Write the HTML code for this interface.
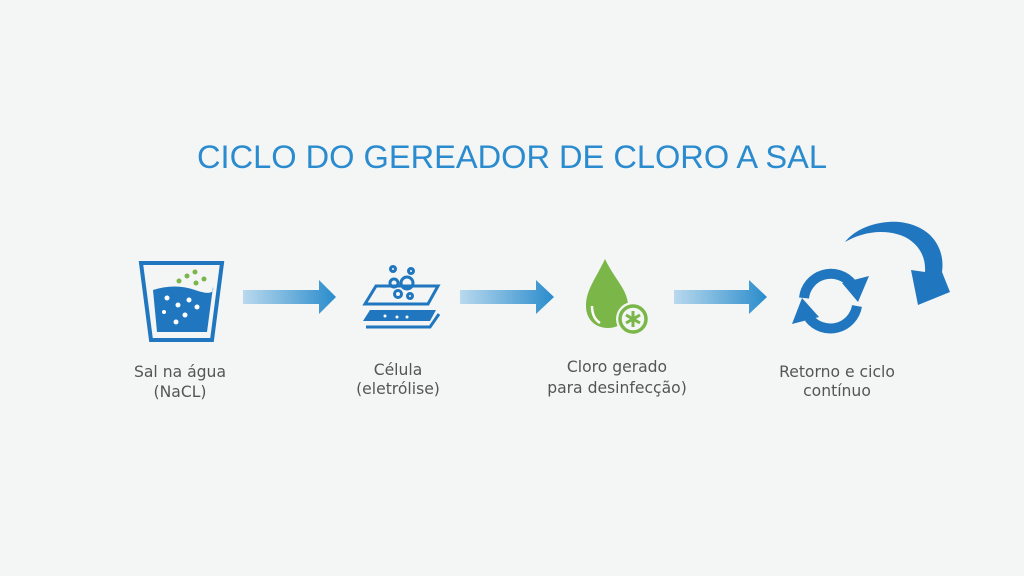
<!DOCTYPE html>
<html><head><meta charset="utf-8"><style>
html,body{margin:0;padding:0;background:#f4f5f5;}
svg{display:block}
text{font-family:"DejaVu Sans","Liberation Sans",sans-serif;}
</style></head><body>
<svg width="1024" height="576" viewBox="0 0 1024 576">
<defs>
<linearGradient id="ag" x1="0" x2="1"><stop offset="0" stop-color="#b9d9ee"/><stop offset="1" stop-color="#2a8ccc"/></linearGradient>
</defs>
<rect width="1024" height="576" fill="#f4f5f5"/>
<text x="512" y="168" text-anchor="middle" font-size="32.6" fill="#2a8ccf" style="font-family:'Liberation Sans',sans-serif">CICLO DO GEREADOR DE CLORO A SAL</text>

<!-- glass -->
<path d="M141,263 L222,263 L212,340 L151,340 Z" fill="none" stroke="#2077bf" stroke-width="4"/>
<path d="M153,290 Q175,283 195,290 T213,287 L207,332 L157,332 Z" fill="#2077bf"/>
<g fill="#fff"><circle cx="167" cy="298" r="2.5"/><circle cx="178" cy="305" r="2.5"/><circle cx="189" cy="300" r="2.5"/><circle cx="197" cy="307" r="2.5"/><circle cx="185" cy="315" r="2.5"/><circle cx="176" cy="322" r="2.5"/><circle cx="164" cy="312" r="2"/></g>
<g fill="#7ab648"><circle cx="179" cy="281" r="2.5"/><circle cx="187" cy="276" r="2.5"/><circle cx="195" cy="272" r="2.5"/><circle cx="196" cy="283" r="2.5"/><circle cx="204" cy="279" r="2.5"/></g>

<!-- arrows -->
<g fill="url(#ag)">
<path d="M243,290 L319,290 L319,280 L336,297 L319,314 L319,304 L243,304 Z"/>
<path d="M460,290 L536,290 L536,280 L554,297 L536,314 L536,304 L460,304 Z"/>
<path d="M674,290 L749,290 L749,280 L767,297 L749,314 L749,304 L674,304 Z"/>
</g>

<!-- cell -->
<g fill="none" stroke="#2077bf" stroke-width="3">
<path d="M376,286 L438,286 L428,304 L365,304 Z"/>
<circle cx="394" cy="283" r="4"/><circle cx="407" cy="283" r="6"/><circle cx="398" cy="294" r="3.5"/><circle cx="410" cy="296" r="2.5"/><circle cx="393" cy="269" r="2.5"/><circle cx="411" cy="271" r="2.5"/>
<path d="M366,327 L430,327 L439,314"/>
</g>
<path d="M370,310 L436,310 L430,321 L363,321 Z" fill="#2077bf"/>
<g fill="#fff"><circle cx="385" cy="316" r="1.5"/><circle cx="397" cy="317" r="1.5"/><circle cx="407" cy="317" r="1.5"/></g>

<!-- drop -->
<path d="M605,259 C595,280 586,290 586,306 C586,320 596,328 608,328 C620,328 628,320 628,306 C628,290 615,280 605,259 Z" fill="#7ab648"/>
<path d="M592,306 Q592,318 600,323" stroke="#fff" stroke-width="2.5" fill="none"/>
<circle cx="633" cy="319" r="17" fill="#f4f5f5"/>
<circle cx="633" cy="319" r="13" fill="none" stroke="#7ab648" stroke-width="3.5"/>
<g stroke="#7ab648" stroke-width="3"><line x1="633" y1="311" x2="633" y2="327"/><line x1="626" y1="315" x2="640" y2="323"/><line x1="626" y1="323" x2="640" y2="315"/></g>

<!-- cycle -->
<g fill="none" stroke="#2077bf" stroke-width="10">
<path d="M804,298 A27,27 0 0 1 852,284"/>
<path d="M857,306 A27,27 0 0 1 809,318"/>
</g>
<g fill="#2077bf">
<path d="M842,283 L869,276 L858,302 Z"/>
<path d="M819,317 L792,324 L802,298 Z"/>
</g>
<!-- big arrow -->
<path d="M845,242 C860,222 905,212 930,235 C940,245 944,258 942,272 L950,292 L918,305 L911,270 L925,272 C926,258 920,245 905,237 C885,228 862,232 845,242 Z" fill="#2077bf"/>

<g font-size="15.6" fill="#555" text-anchor="middle">
<text x="180" y="377">Sal na água</text><text x="180" y="397">(NaCL)</text>
<text x="398" y="375">Célula</text><text x="398" y="394">(eletrólise)</text>
<text x="617" y="372">Cloro gerado</text><text x="617" y="393">para desinfecção)</text>
<text x="837" y="377">Retorno e ciclo</text><text x="837" y="396">contínuo</text>
</g>
</svg>
</body></html>
